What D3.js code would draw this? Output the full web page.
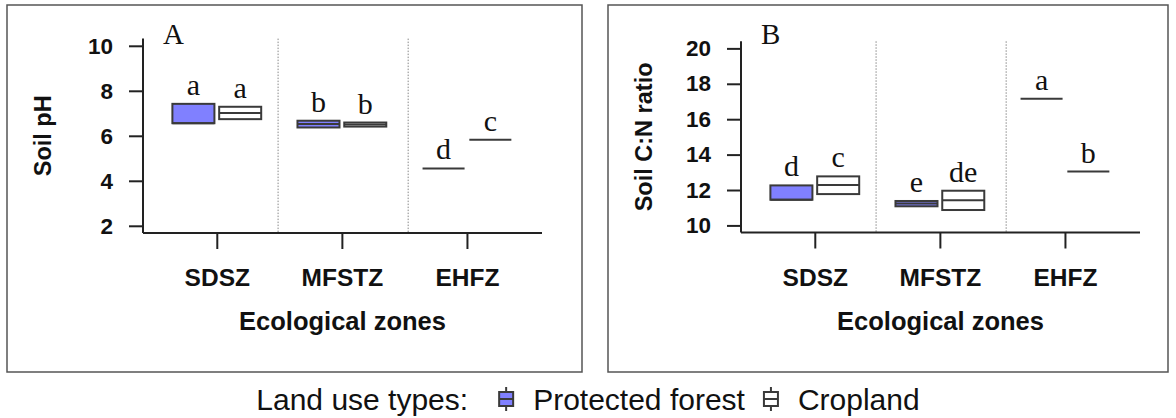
<!DOCTYPE html>
<html lang="en">
<head>
<meta charset="UTF-8">
<title>Soil pH and C:N ratio by ecological zone</title>
<style>
  html, body { margin: 0; padding: 0; background: #fff; }
  .sans { font-family: "Liberation Sans", Arial, sans-serif; }
  .serif { font-family: "Liberation Serif", "Times New Roman", serif; }
</style>
</head>
<body>
<svg width="1176" height="418" viewBox="0 0 1176 418"></svg>
<script src="https://d3js.org/d3.v7.min.js"></script>
<script>

// ---- data ----
const zones = ["SDSZ", "MFSTZ", "EHFZ"];
const landUse = ["Protected forest", "Cropland"];

// soil pH: lower hinge, median, upper hinge per zone
const phForestQ1 = [6.56, 6.37, 4.55];
const phForestMed = [6.56, 6.52, 4.55];
const phForestQ3 = [7.42, 6.67, 4.55];
const phCropQ1 = [6.74, 6.41, 5.83];
const phCropMed = [7.01, 6.50, 5.83];
const phCropQ3 = [7.29, 6.59, 5.83];
const phForestLetters = ["a", "b", "d"];
const phCropLetters = ["a", "b", "c"];
const phTicks = [2, 4, 6, 8, 10];

// soil C:N ratio
const cnForestQ1 = [11.45, 11.08, 17.15];
const cnForestMed = [11.45, 11.24, 17.15];
const cnForestQ3 = [12.26, 11.38, 17.15];
const cnCropQ1 = [11.77, 10.87, 13.04];
const cnCropMed = [12.28, 11.42, 13.04];
const cnCropQ3 = [12.77, 11.96, 13.04];
const cnForestLetters = ["d", "e", "a"];
const cnCropLetters = ["c", "de", "b"];
const cnTicks = [10, 12, 14, 16, 18, 20];

// zone separators (between zone positions 1..3)
const separators = [1.49, 2.53];

const FOREST = "#8080ff", STROKE = "#3a3a3a";

const svg = d3.select("svg");

function boxes(q1, med, q3, letters) {
  return zones.map((z, i) => ({ zone: i + 1, q1: q1[i], med: med[i], q3: q3[i], letter: letters[i] }));
}

const panels = [
  {
    border: { x0: 7, x1: 582 }, ax: { x0: 143, x1: 542 },
    yDomain: [1.68, 10.32], yRange: [233, 38.6], ticks: phTicks,
    ylab: "Soil pH", tag: "A",
    forest: boxes(phForestQ1, phForestMed, phForestQ3, phForestLetters),
    crop: boxes(phCropQ1, phCropMed, phCropQ3, phCropLetters)
  },
  {
    border: { x0: 608, x1: 1168 }, ax: { x0: 741, x1: 1140 },
    yDomain: [9.6, 20.4], yRange: [232.5, 41.3], ticks: cnTicks,
    ylab: "Soil C:N ratio", tag: "B",
    forest: boxes(cnForestQ1, cnForestMed, cnForestQ3, cnForestLetters),
    crop: boxes(cnCropQ1, cnCropMed, cnCropQ3, cnCropLetters)
  }
];

const dodge = 0.187, halfW = 0.168;

panels.forEach(p => {
  const g = svg.append("g");

  g.append("rect")
      .attr("x", p.border.x0).attr("y", 5)
      .attr("width", p.border.x1 - p.border.x0).attr("height", 367)
      .attr("fill", "none").attr("stroke", "#555").attr("stroke-width", 1.5);

  const x = d3.scaleLinear().domain([0.41, 3.6]).range([p.ax.x0, p.ax.x1]);
  const y = d3.scaleLinear().domain(p.yDomain).range(p.yRange);

  // dotted separators
  g.selectAll(".sep").data(separators).join("line")
      .attr("x1", d => x(d)).attr("x2", d => x(d))
      .attr("y1", p.yRange[1]).attr("y2", p.yRange[0])
      .attr("stroke", "#888").attr("stroke-width", 1)
      .attr("stroke-dasharray", "1.5,1.5");

  // axes (L-shaped frame)
  const yAxis = g.append("g")
      .attr("transform", "translate(" + p.ax.x0 + ",0)")
      .call(d3.axisLeft(y).tickValues(p.ticks).tickSize(14).tickPadding(16));
  yAxis.select(".domain").attr("d", "M0," + p.yRange[1] + "V" + p.yRange[0]);

  const xAxis = g.append("g")
      .attr("transform", "translate(0," + p.yRange[0] + ")")
      .call(d3.axisBottom(x).tickValues([1, 2, 3]).tickSize(16).tickPadding(20)
        .tickFormat(d => zones[d - 1]));
  xAxis.select(".domain").attr("d", "M" + p.ax.x0 + ",0H" + p.ax.x1);

  [yAxis, xAxis].forEach(a => {
    a.select(".domain").attr("stroke", "#222").attr("stroke-width", 2);
    a.selectAll(".tick line").attr("stroke", "#222").attr("stroke-width", 2);
    a.selectAll("text").attr("class", "sans").attr("font-weight", "bold")
        .attr("fill", "#111");
  });
  yAxis.selectAll("text").attr("font-size", 22.5);
  xAxis.selectAll("text").attr("font-size", 24.5);

  // boxes
  [[p.forest, -dodge, FOREST], [p.crop, dodge, "#fff"]].forEach(([data, off, fill]) => {
    const bg = g.append("g");
    data.forEach(d => {
      const cx = d.zone + off;
      if (d.q3 - d.q1 > 0) {
        bg.append("rect")
            .attr("x", x(cx - halfW)).attr("width", x(cx + halfW) - x(cx - halfW))
            .attr("y", y(d.q3)).attr("height", y(d.q1) - y(d.q3))
            .attr("fill", fill).attr("stroke", STROKE).attr("stroke-width", 2);
      }
      bg.append("line")
          .attr("x1", x(cx - halfW)).attr("x2", x(cx + halfW))
          .attr("y1", y(d.med)).attr("y2", y(d.med))
          .attr("stroke", STROKE).attr("stroke-width", 2);
      bg.append("text")
          .attr("class", "serif")
          .attr("x", x(cx)).attr("y", y(d.q3) - 9)
          .attr("text-anchor", "middle").attr("font-size", 30).attr("fill", "#111")
          .text(d.letter);
    });
  });

  // titles
  g.append("text").attr("class", "serif")
      .attr("x", p.ax.x0 + 20).attr("y", 44)
      .attr("font-size", 29).attr("fill", "#111").text(p.tag);

  g.append("text").attr("class", "sans")
      .attr("x", (p.ax.x0 + p.ax.x1) / 2).attr("y", 330)
      .attr("text-anchor", "middle").attr("font-size", 25.5).attr("font-weight", "bold")
      .attr("fill", "#111").text("Ecological zones");

  g.append("text").attr("class", "sans")
      .attr("transform", "translate(" + (p.border.x0 + 44) + "," + (p.yRange[0] + p.yRange[1]) / 2 + ") rotate(-90)")
      .attr("text-anchor", "middle").attr("font-size", 23.5).attr("font-weight", "bold")
      .attr("fill", "#111").text(p.ylab);
});

// ---- legend ----
const leg = svg.append("g").attr("class", "sans");
const legY = 410;
let cx = 0;
const title = leg.append("text").attr("x", cx).attr("y", legY)
    .attr("font-size", 30).attr("fill", "#111").text("Land use types:");
cx += title.node().getComputedTextLength() + 38;

[FOREST, "#fff"].forEach((fill, i) => {
  const ic = leg.append("g").attr("transform", "translate(" + cx + "," + (legY - 11) + ")");
  ic.append("line").attr("y1", -12).attr("y2", 12).attr("stroke", STROKE).attr("stroke-width", 2);
  ic.append("rect").attr("x", -7).attr("y", -7).attr("width", 14).attr("height", 14)
      .attr("fill", fill).attr("stroke", STROKE).attr("stroke-width", 2);
  ic.append("line").attr("x1", -7).attr("x2", 7).attr("stroke", STROKE).attr("stroke-width", 2);
  cx += 27;
  const t = leg.append("text").attr("x", cx).attr("y", legY)
      .attr("font-size", 30).attr("fill", "#111").text(landUse[i]);
  cx += t.node().getComputedTextLength() + 26;
});
const legW = cx - 26;
leg.attr("transform", "translate(" + (588 - legW / 2) + ",0)");

</script>
</body>
</html>
